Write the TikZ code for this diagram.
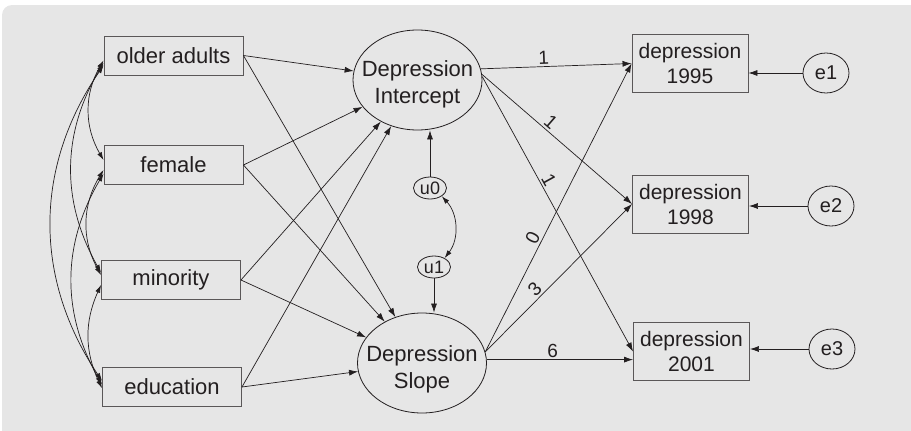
\documentclass[tikz,border=0pt]{standalone}
\usepackage{fontspec}
\setmainfont{Liberation Sans}
\usetikzlibrary{arrows.meta,shapes.geometric}
\definecolor{panel}{RGB}{230,230,230}
\definecolor{ink}{RGB}{35,31,32}

\begin{document}
\begin{tikzpicture}[x=1pt, y=1pt,
    every node/.style={text=ink, font=\fontsize{22}{26}\selectfont},
    obs/.style={draw=ink!75, line width=0.9pt, rectangle, minimum width=139pt, minimum height=39pt, inner sep=0pt},
    ind/.style={obs, align=center, minimum width=116pt, minimum height=58pt, font=\fontsize{21}{25}\selectfont},
    lat/.style={draw=ink, line width=0.8pt, ellipse, minimum width=129pt, minimum height=100pt, inner sep=0pt},
    lattext/.style={align=center, inner sep=0pt, font=\fontsize{22}{27}\selectfont},
    res/.style={draw=ink, line width=0.8pt, ellipse, inner sep=0pt, minimum width=46pt, minimum height=40pt, font=\fontsize{20}{22}\selectfont},
    dis/.style={res, minimum width=33pt, minimum height=22pt, font=\fontsize{18}{20}\selectfont},
    reg/.style={draw=ink, line width=0.7pt, -{Latex[length=9pt,width=6pt]}},
    cov/.style={draw=ink, line width=0.7pt, {Latex[length=8pt,width=5pt]}-{Latex[length=8pt,width=5pt]}, bend right=30},
    wt/.style={font=\fontsize{19}{21}\selectfont, sloped, above, pos=0.42, inner sep=2pt}]
  \useasboundingbox (0,0) rectangle (911,-431);
  \clip (0,0) rectangle (911,-431);
  \fill[panel, rounded corners=10pt] (2,-5) rectangle (930,-450);

  % exogenous variables
  \node[obs] (oa) at (173.5,-55.5) {older adults};
  \node[obs] (fe) at (173.5,-165) {female};
  \node[obs] (mi) at (171,-280) {minority};
  \node[obs] (ed) at (172,-387) {education};

  % growth factors
  \node[lat] (int) at (417.5,-80) {};
  \node[lattext] (inttext) at ([yshift=-4pt]int.center) {Depression\\Intercept};
  \node[lat] (slo) at (422,-363) {};
  \node[lattext] (slotext) at ([yshift=-6pt]slo.center) {Depression\\Slope};
  \node[dis] (u0) at (430,-188) {u0};
  \node[dis] (u1) at (434,-267) {u1};

  % repeated measures
  \node[ind] (d95) at (690,-63.5) {depression\\1995};
  \node[ind] (d98) at (690.5,-204) {depression\\1998};
  \node[ind] (d01) at (691.5,-351.5) {depression\\2001};
  \node[res] (e1) at (826,-73) {e1};
  \node[res] (e2) at (831,-206) {e2};
  \node[res] (e3) at (832,-349) {e3};

  \foreach \s in {oa,fe,mi,ed}{
    \draw[reg] (\s.east) -- (int);
    \draw[reg] (\s.east) -- (slo);
  }

  \draw[cov] (oa.184) to (fe.176);
  \draw[cov] (oa.186) to (mi.174);
  \draw[cov, bend right=34] (oa.188) to (ed.175);
  \draw[cov] (fe.184) to (mi.176);
  \draw[cov] (fe.187) to (ed.178);
  \draw[cov, bend right=25] (mi.184) to (ed.181);

  \draw[reg] (u0) -- (u0 |- int.south);
  \draw[reg] (u1) -- (u1 |- slo.north);
  \draw[cov, bend left=40] (u0.-35) to (u1.40);

  \draw[reg] (int.10) -- node[wt] {1} (d95.west);
  \draw[reg] (int.5) -- node[wt] {1} (d98.west);
  \draw[reg] (int.3) -- node[wt, pos=0.39] {1} (d01.west);
  \draw[reg] (slo.10) -- node[wt, pos=0.38] {0} (d95.west);
  \draw[reg] (slo.10) -- node[wt, pos=0.38] {3} (d98.west);
  \draw[reg] (slo.3) -- node[wt, pos=0.45] {6} (slo.3 -| d01.west);

  \draw[reg] (e1) -- (e1 -| d95.east);
  \draw[reg] (e2) -- (e2 -| d98.east);
  \draw[reg] (e3) -- (e3 -| d01.east);
\end{tikzpicture}
\end{document}
